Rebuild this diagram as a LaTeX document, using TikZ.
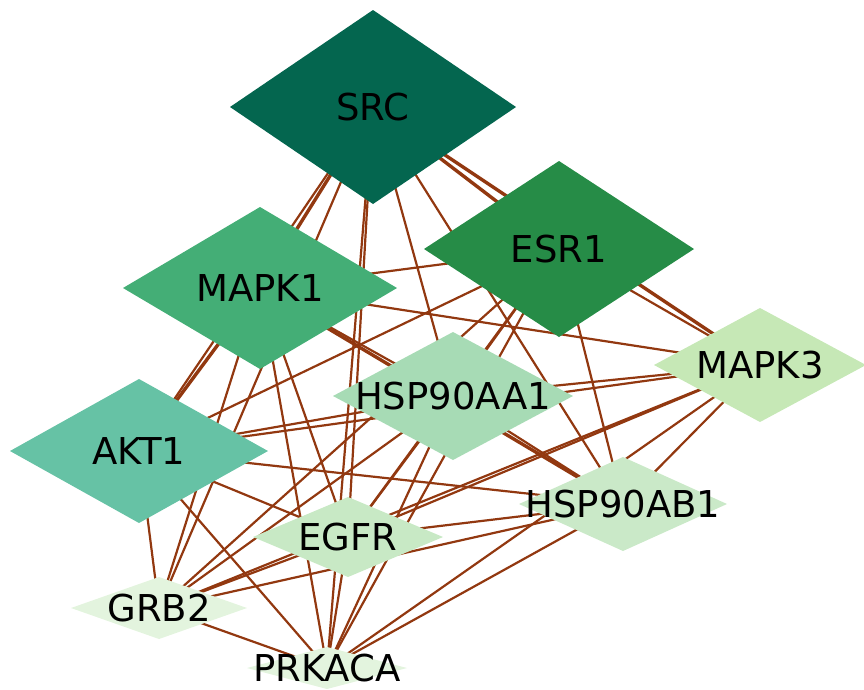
\documentclass[tikz,border=0pt]{standalone}
\usepackage{fontspec}
\setmainfont{DejaVu Sans}
\usetikzlibrary{shapes.geometric,backgrounds}
\definecolor{edgec}{RGB}{146,56,16}
\definecolor{cSRC}{HTML}{04664F}
\definecolor{cESR}{HTML}{268C47}
\definecolor{cMAPKa}{HTML}{44AE76}
\definecolor{cAKT}{HTML}{66C2A5}
\definecolor{cHSPa}{HTML}{A7DBB5}
\definecolor{cMAPKc}{HTML}{C6E8B6}
\definecolor{cHSPb}{HTML}{CAE9C8}
\definecolor{cEGFR}{HTML}{C8E9C5}
\definecolor{cGRB}{HTML}{E3F4DE}
\definecolor{cPRK}{HTML}{E3F4DE}
\tikzset{
  gene/.style={diamond, draw=none, inner sep=0pt, outer sep=0pt},
  lab/.style={inner sep=0pt, font=\fontsize{37}{37}\selectfont, text=black},
  edge/.style={draw=edgec, line width=2.2pt},
  thick edge/.style={draw=edgec, line width=3.4pt},
}
\begin{document}
\begin{tikzpicture}[x=1pt,y=-1pt]
\useasboundingbox (0,0) rectangle (864,689);
% nodes (diamonds)
\node[gene, fill=cSRC,   minimum width=286pt, minimum height=194pt] (src)   at (373,107) {};
\node[gene, fill=cESR,   minimum width=270pt, minimum height=176pt] (esr)   at (559,249) {};
\node[gene, fill=cMAPKa, minimum width=274pt, minimum height=162pt] (mapka) at (260,288) {};
\node[gene, fill=cAKT,   minimum width=258pt, minimum height=144pt] (akt)   at (139,451) {};
\node[gene, fill=cHSPa,  minimum width=240pt, minimum height=128pt] (hspa)  at (453,396) {};
\node[gene, fill=cMAPKc, minimum width=212pt, minimum height=114pt] (mapkc) at (760,365) {};
\node[gene, fill=cHSPb,  minimum width=208pt, minimum height=94pt]  (hspb)  at (623,504) {};
\node[gene, fill=cEGFR,  minimum width=190pt, minimum height=80pt]  (egfr)  at (348,537) {};
\node[gene, fill=cGRB,   minimum width=176pt, minimum height=62pt]  (grb)   at (159,608) {};
\node[gene, fill=cPRK,   minimum width=160pt, minimum height=42pt]  (prk)   at (327,668) {};
% labels
\node[lab] (srcT)   at (src)   {SRC};
\node[lab] (esrT)   at (esr)   {ESR1};
\node[lab] (mapkaT) at (mapka) {MAPK1};
\node[lab] (aktT)   at (akt)   {AKT1};
\node[lab] (hspaT)  at (hspa)  {HSP90AA1};
\node[lab] (mapkcT) at (mapkc) {MAPK3};
\node[lab] (hspbT)  at (hspb)  {HSP90AB1};
\node[lab] (egfrT)  at (egfr)  {EGFR};
\node[lab] (grbT)   at (grb)   {GRB2};
\node[lab] (prkT)   at (prk)   {PRKACA};
% edges behind
\begin{scope}[on background layer]
\foreach \a/\b in {src/hspa,src/hspb,src/egfr,src/grb,src/prk,src/akt,
  esr/mapka,esr/akt,esr/hspa,esr/mapkc,esr/hspb,esr/egfr,esr/grb,esr/prk,
  mapka/hspa,mapka/mapkc,mapka/egfr,mapka/grb,mapka/prk,
  akt/hspa,akt/mapkc,akt/hspb,akt/egfr,akt/grb,akt/prk,
  hspa/mapkc,hspa/hspb,hspa/egfr,hspa/grb,hspa/prk,
  mapkc/hspb,mapkc/egfr,mapkc/grb,mapkc/prk,
  hspb/egfr,hspb/grb,hspb/prk,
  egfr/grb,egfr/prk,grb/prk}
  \draw[edge] (\a.center) -- (\b.center);
\foreach \a/\b in {src/mapka,src/esr,src/mapkc,mapka/akt,mapka/hspb}
  \draw[thick edge] (\a.center) -- (\b.center);
\end{scope}
\end{tikzpicture}
\end{document}
